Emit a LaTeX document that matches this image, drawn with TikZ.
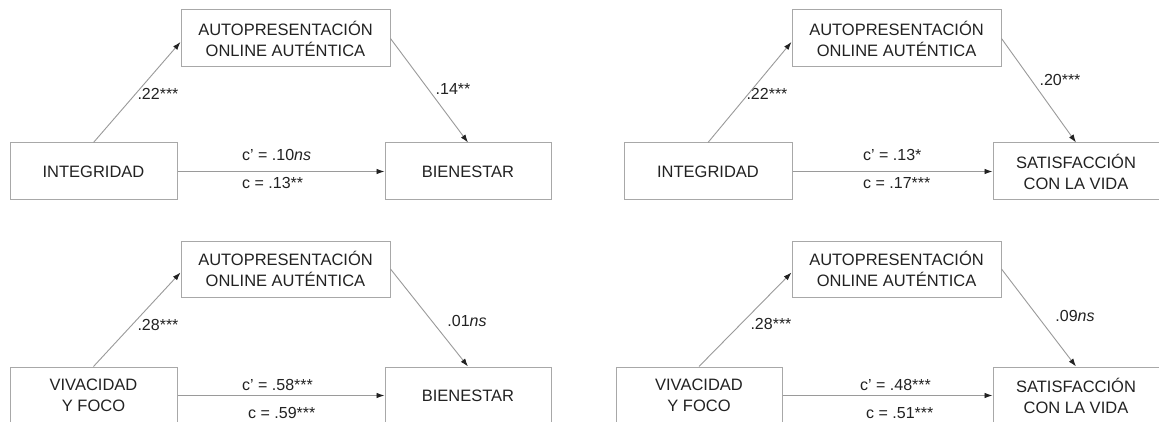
\documentclass[tikz,border=0pt]{standalone}
\usepackage{fontspec}
\setmainfont{Liberation Sans}
\usetikzlibrary{arrows.meta}
\definecolor{boxgray}{HTML}{A8A8A8}
\definecolor{linegray}{HTML}{9A9A9A}
\definecolor{txt}{HTML}{222222}

\begin{document}
\begin{tikzpicture}[x=1pt,y=-1pt,
  box/.style={draw=boxgray, line width=1pt, align=center, inner sep=0pt, text=txt,
    minimum height=57pt, font=\fontsize{16.5}{21}\selectfont},
  coef/.style={text=txt, inner sep=0pt, font=\fontsize{16}{19}\selectfont},
  link/.style={-{Latex[length=8pt,width=5.5pt,color=txt]}, draw=linegray, line width=0.9pt}]
\clip (0,0) rectangle (1159,422);
\fill[white] (0,0) rectangle (1159,422);

% top left
\node(m1)[box, minimum width=209pt] at (285.5,38.5) {AUTOPRESENTACIÓN\\ONLINE AUTÉNTICA};
\node(x1)[box, minimum width=167pt] at (93.5,171.5) {INTEGRIDAD};
\node(y1)[box, minimum width=166pt] at (468,171.5) {BIENESTAR};

\node(a1)[coef] at (158,94) {.22***};
\node(b1)[coef] at (453,89) {.14**};
\node(c1)[coef, anchor=west] at (242,155) {c' = .10\textit{ns}};
\node(d1)[coef, anchor=west] at (242,183) {c = .13**};

\draw[link] (x1.north) -- ([yshift=-3.5pt]m1.west);
\draw[link] (m1.east) -- (y1.north);
\draw[link] (x1.east) -- (y1.west);

% top right
\node(m2)[box, minimum width=209pt] at (896.5,38.5) {AUTOPRESENTACIÓN\\ONLINE AUTÉNTICA};
\node(x2)[box, minimum width=168pt] at (708,171.5) {INTEGRIDAD};
\node(y2)[box, minimum width=166pt] at (1076,171.5) {SATISFACCIÓN\\CON LA VIDA};

\node(a2)[coef] at (767,94) {.22***};
\node(b2)[coef] at (1060,80) {.20***};
\node(c2)[coef, anchor=west] at (863,155) {c' = .13*};
\node(d2)[coef, anchor=west] at (863,183) {c = .17***};

\draw[link] (x2.north) -- ([yshift=-3.5pt]m2.west);
\draw[link] (m2.east) -- (y2.north);
\draw[link] (x2.east) -- (y2.west);

% bottom left
\node(m3)[box, minimum width=209pt, minimum height=56pt] at (285.5,269) {AUTOPRESENTACIÓN\\ONLINE AUTÉNTICA};
\node(x3)[box, minimum width=167pt] at (93.5,395.5) {VIVACIDAD\\Y FOCO};
\node(y3)[box, minimum width=166pt] at (468,395.5) {BIENESTAR};

\node(a3)[coef] at (158,325) {.28***};
\node(b3)[coef] at (467,321) {.01\textit{ns}};
\node(c3)[coef, anchor=west] at (242,385) {c' = .58***};
\node(d3)[coef, anchor=west] at (248,413) {c = .59***};

\draw[link] (x3.north) -- ([yshift=-3.5pt]m3.west);
\draw[link] (m3.east) -- (y3.north);
\draw[link] (x3.east) -- (y3.west);

% bottom right
\node(m4)[box, minimum width=209pt, minimum height=56pt] at (896.5,269) {AUTOPRESENTACIÓN\\ONLINE AUTÉNTICA};
\node(x4)[box, minimum width=166pt] at (699,395.5) {VIVACIDAD\\Y FOCO};
\node(y4)[box, minimum width=166pt] at (1076,395.5) {SATISFACCIÓN\\CON LA VIDA};

\node(a4)[coef] at (771,324) {.28***};
\node(b4)[coef] at (1075,316) {.09\textit{ns}};
\node(c4)[coef, anchor=west] at (860,385) {c' = .48***};
\node(d4)[coef, anchor=west] at (866,413) {c = .51***};

\draw[link] (x4.north) -- ([yshift=-3.5pt]m4.west);
\draw[link] (m4.east) -- (y4.north);
\draw[link] (x4.east) -- (y4.west);
\end{tikzpicture}
\end{document}
